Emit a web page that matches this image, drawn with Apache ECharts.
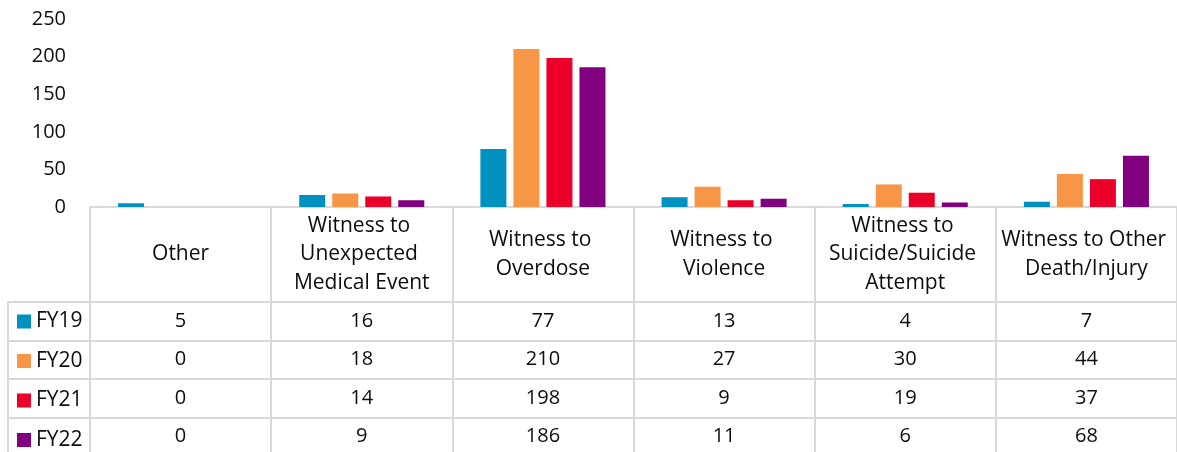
<!DOCTYPE html>
<html>
<head>
<meta charset="utf-8">
<script src="https://cdn.jsdelivr.net/npm/echarts@6/dist/echarts.min.js"></script>
<style>
  html, body { margin: 0; padding: 0; background: #fff; }
  #chart { width: 1177px; height: 452px; }
</style>
</head>
<body>
<div id="chart"></div>
<script>
const categories = ['Other', 'Witness to Unexpected Medical Event', 'Witness to Overdose',
  'Witness to Violence', 'Witness to Suicide/Suicide Attempt', 'Witness to Other Death/Injury'];
const years = ['FY19', 'FY20', 'FY21', 'FY22'];
const fy19 = [5, 16, 77, 13, 4, 7];
const fy20 = [0, 18, 210, 27, 30, 44];
const fy21 = [0, 14, 198, 9, 19, 37];
const fy22 = [0, 9, 186, 11, 6, 68];
const yTicks = [0, 50, 100, 150, 200, 250];

const colors = ['#0091c0', '#f79646', '#eb0029', '#80007f'];
const rows = [fy19, fy20, fy21, fy22];
const fontFamily = '"Open Sans", sans-serif';
const textColor = '#0d0d0d';
const lineColor = '#d9d9d9';
const headerHeight = 95;
const rowHeight = 38.5;

const chart = echarts.init(document.getElementById('chart'));

// table rows, one x axis per series, stacked below the header
var rowAxes = rows.map(function (vals, i) {
  return {
    type: 'category',
    gridIndex: 0,
    position: 'bottom',
    offset: headerHeight + i * rowHeight,
    data: categories,
    axisLine: { show: true, lineStyle: { color: lineColor, width: 2 } },
    axisTick: { show: false },
    axisLabel: {
      interval: 0,
      margin: rowHeight / 2,
      verticalAlign: 'middle',
      fontFamily: fontFamily,
      fontSize: 20,
      color: textColor,
      formatter: function (v, idx) { return String(vals[idx]); }
    }
  };
});

// legend column borders (left of the table)
var legendAxes = rows.map(function (vals, i) {
  return {
    type: 'category',
    gridIndex: 1,
    position: 'bottom',
    offset: i * rowHeight,
    data: [''],
    axisLine: { show: true, lineStyle: { color: lineColor, width: 2 } },
    axisTick: { show: i === 0, length: 200, interval: 0, lineStyle: { color: lineColor, width: 2 } },
    axisLabel: { show: false }
  };
});

var option = {
  animation: false,
  color: colors,
  grid: [
    { left: 90, top: 19, width: 1092, height: 188 },
    { left: 8, top: 207, width: 82, height: headerHeight }
  ],
  legend: {
    data: years,
    orient: 'vertical',
    left: 17,
    top: 311,
    padding: 0,
    height: 160,
    icon: 'rect',
    itemWidth: 14,
    itemHeight: 14,
    itemGap: 18.5,
    selectedMode: false,
    textStyle: { fontFamily: fontFamily, fontSize: 21, color: textColor, lineHeight: 20 }
  },
  xAxis: [
    {
      type: 'category',
      gridIndex: 0,
      data: categories,
      axisLine: { show: true, lineStyle: { color: lineColor, width: 2 } },
      axisTick: { show: true, interval: 0, length: 260, lineStyle: { color: lineColor, width: 2 } },
      axisLabel: {
        interval: 0,
        margin: headerHeight / 2,
        verticalAlign: 'middle',
        width: 172,
        overflow: 'break',
        lineHeight: 28.5,
        fontFamily: fontFamily,
        fontSize: 21,
        color: textColor
      }
    }
  ].concat(rowAxes).concat(legendAxes),
  yAxis: [
    {
      type: 'value',
      gridIndex: 0,
      min: yTicks[0],
      max: yTicks[yTicks.length - 1],
      interval: 50,
      axisLine: { show: false },
      axisTick: { show: false },
      splitLine: { show: false },
      axisLabel: { margin: 24, fontFamily: fontFamily, fontSize: 20, color: textColor }
    },
    { type: 'value', gridIndex: 1, min: 0, max: 1, show: false }
  ],
  series: rows.map(function (vals, i) {
    return {
      name: years[i],
      type: 'bar',
      xAxisIndex: 0,
      yAxisIndex: 0,
      barWidth: 26,
      barGap: '27%',
      data: vals
    };
  })
};

chart.setOption(option);
</script>
</body>
</html>
